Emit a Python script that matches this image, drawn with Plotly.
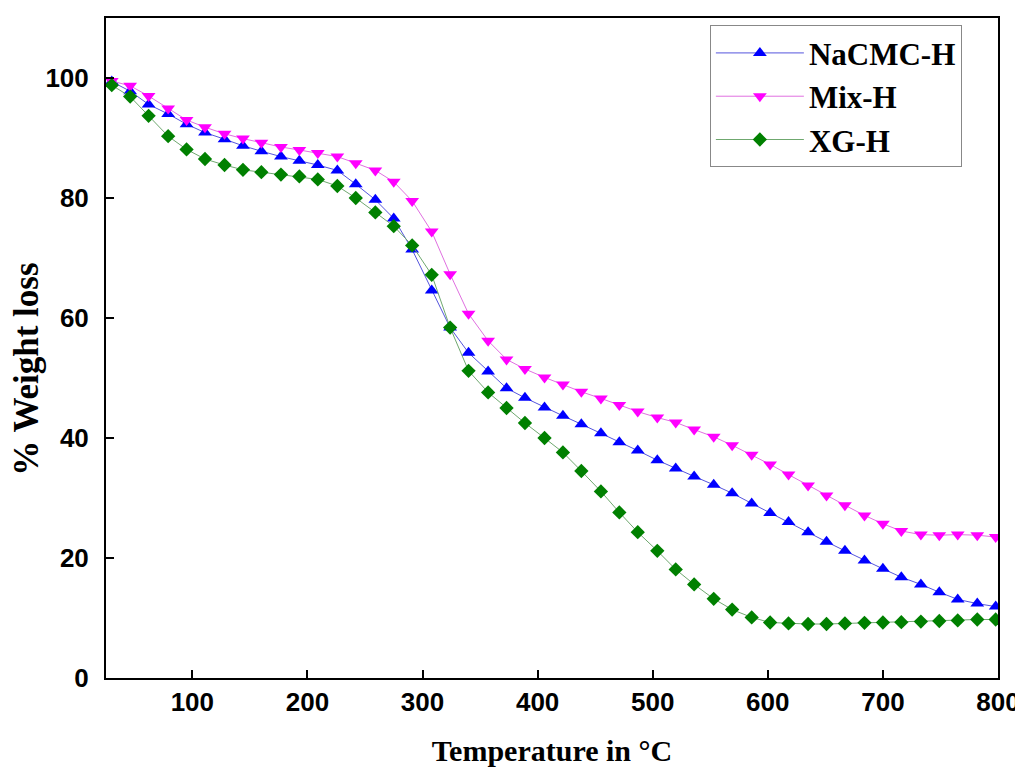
import plotly.graph_objects as go

# Temperature (°C)
temperature = [30, 46, 62, 79, 95, 111, 128, 144, 160, 177, 193, 209, 226, 242, 259, 275,
               291, 308, 324, 340, 357, 373, 389, 406, 422, 438, 455, 471, 487, 504, 520, 536,
               553, 569, 586, 602, 618, 635, 651, 667, 684, 700, 716, 733, 749, 765, 782, 798]

nacmc_h = [99.4, 97.8, 95.6, 94.0, 92.3, 90.9, 89.8, 88.7, 87.8, 86.9, 86.2, 85.5, 84.6, 82.3, 79.7, 76.6,
           71.4, 64.6, 58.4, 54.2, 51.1, 48.3, 46.7, 45.1, 43.7, 42.3, 40.8, 39.3, 37.9, 36.3, 34.9, 33.6,
           32.2, 30.8, 29.1, 27.5, 26.0, 24.3, 22.7, 21.2, 19.6, 18.2, 16.8, 15.6, 14.3, 13.1, 12.4, 11.9]

mix_h = [99.5, 98.7, 97.0, 94.9, 93.0, 91.8, 90.7, 89.9, 89.2, 88.5, 88.0, 87.5, 86.9, 85.8, 84.6, 82.7,
         79.5, 74.4, 67.3, 60.7, 56.2, 53.1, 51.5, 50.1, 48.9, 47.7, 46.6, 45.5, 44.4, 43.4, 42.6, 41.4,
         40.2, 38.8, 37.2, 35.6, 33.9, 32.1, 30.4, 28.8, 27.1, 25.7, 24.5, 23.9, 23.8, 23.9, 23.8, 23.5]

xg_h = [98.8, 96.9, 93.7, 90.3, 88.1, 86.5, 85.5, 84.7, 84.3, 83.9, 83.6, 83.1, 82.0, 80.0, 77.6, 75.3,
        72.1, 67.2, 58.4, 51.2, 47.6, 45.0, 42.5, 40.0, 37.6, 34.5, 31.1, 27.6, 24.3, 21.2, 18.1, 15.6,
        13.2, 11.4, 10.1, 9.25, 9.1, 9.0, 9.0, 9.1, 9.2, 9.25, 9.3, 9.4, 9.5, 9.6, 9.75, 9.75]

x_ticks = [100, 200, 300, 400, 500, 600, 700, 800]
y_ticks = [0, 20, 40, 60, 80, 100]

series = [
    ("NaCMC-H", nacmc_h, "triangle-up", "#0000FF", "#5555DD", 12),
    ("Mix-H", mix_h, "triangle-down", "#FF00FF", "#E070E0", 12),
    ("XG-H", xg_h, "diamond", "#008000", "#6FA86F", 11),
]

fig = go.Figure()
for name, vals, sym, mcol, lcol, msize in series:
    fig.add_trace(go.Scatter(
        x=temperature, y=vals, name=name, mode="lines+markers",
        line=dict(color=lcol, width=1),
        marker=dict(symbol=sym, size=msize, color=mcol, line=dict(width=0)),
        cliponaxis=True,
    ))

axis_common = dict(
    showline=True, linecolor="black", linewidth=2, mirror=True,
    ticks="inside", ticklen=8, tickwidth=2, tickcolor="black",
    showgrid=False, zeroline=False,
    tickfont=dict(family="Liberation Sans Narrow, Arial Narrow, Liberation Sans, Arial",
                  size=26, color="black", weight="bold"),
)

fig.update_xaxes(
    range=[25, 800], tickvals=x_ticks, ticktext=[str(v) for v in x_ticks],
    title=dict(text="<b>Temperature in °C</b>",
               font=dict(family="Liberation Serif, Times New Roman", size=30, color="black"),
               standoff=24),
    **axis_common,
)
fig.update_yaxes(
    range=[0, 110], tickvals=y_ticks, ticktext=[str(v) for v in y_ticks],
    ticklabelstandoff=10,
    **axis_common,
)

fig.add_annotation(
    text="<b>% Weight loss</b>", textangle=-90,
    xref="paper", yref="paper", x=-0.089, y=0.468,
    xanchor="center", yanchor="middle", showarrow=False,
    font=dict(family="Liberation Serif, Times New Roman", size=35, color="black"),
)

fig.update_layout(
    width=1015, height=763,
    margin=dict(l=98, r=25, t=10, b=93, autoexpand=False),
    paper_bgcolor="white", plot_bgcolor="white",
    showlegend=True,
    legend=dict(
        x=0.677, y=0.989, xanchor="left", yanchor="top",
        bgcolor="white", bordercolor="#888888", borderwidth=1,
        font=dict(family="Liberation Serif, Times New Roman", size=31, color="black", weight="bold"),
        itemwidth=88, tracegroupgap=0,
    ),
)

fig.write_html("out.html")
